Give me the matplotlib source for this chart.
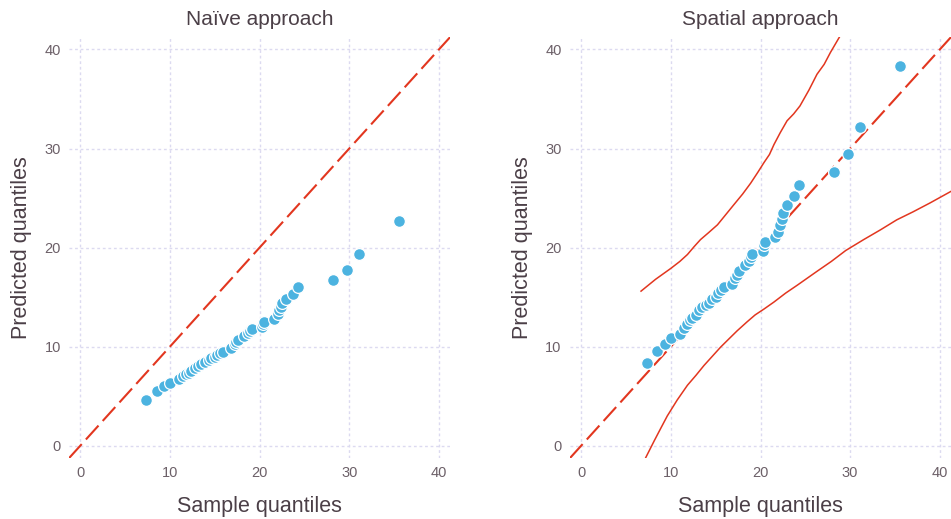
import matplotlib
matplotlib.use('Agg')
import matplotlib.pyplot as plt

# quantis da amostra (eixo x, comuns aos dois painéis)
sample_q = [7.3, 8.5, 9.3, 10.0, 11.0, 11.5, 11.8, 12.1, 12.4, 12.8, 13.1, 13.5, 13.9,
            14.3, 14.6, 15.0, 15.3, 15.6, 15.9, 16.85, 17.2, 17.4, 17.6, 18.3, 18.7,
            18.9, 19.1, 20.3, 20.4, 20.5, 21.6, 22.0, 22.2, 22.4, 22.5, 22.9, 23.7,
            24.3, 28.2, 29.8, 31.1, 35.6]

# quantis previstos - abordagem ingénua
naive_q = [4.65, 5.5, 6.0, 6.35, 6.7, 7.0, 7.2, 7.35, 7.55, 7.8, 8.0, 8.25, 8.45,
           8.65, 8.85, 9.0, 9.2, 9.35, 9.5, 9.9, 10.3, 10.5, 10.7, 11.1, 11.4,
           11.6, 11.8, 12.0, 12.3, 12.5, 12.8, 13.3, 13.7, 14.0, 14.4, 14.8, 15.3,
           16.0, 16.7, 17.7, 19.3, 22.7]

# quantis previstos - abordagem espacial
spatial_q = [8.3, 9.55, 10.3, 10.9, 11.3, 11.9, 12.3, 12.7, 12.9, 13.2, 13.7, 14.0, 14.2,
             14.4, 14.85, 15.0, 15.4, 15.7, 16.0, 16.3, 16.9, 17.2, 17.6, 18.2, 18.6,
             19.0, 19.3, 19.7, 20.3, 20.6, 21.05, 21.6, 22.3, 22.9, 23.5, 24.3, 25.2,
             26.3, 27.6, 29.4, 32.2, 38.3]

# envelope superior
upper_x = [6.67, 8.3, 10.0, 11.0, 11.85, 12.6, 13.3, 14.2, 15.2, 16.1, 17.0, 18.0, 18.9,
           19.7, 20.4, 21.0, 21.5, 22.2, 22.96, 23.7, 24.4, 25.4, 26.3, 27.1, 27.8, 28.8]
upper_y = [15.6, 16.8, 17.9, 18.6, 19.3, 20.1, 20.8, 21.5, 22.3, 23.3, 24.3, 25.4, 26.5,
           27.6, 28.6, 29.4, 30.4, 31.6, 32.8, 33.5, 34.3, 35.9, 37.5, 38.5, 39.7, 41.25]

# envelope inferior
lower_x = [6.67, 7.2, 8.15, 8.9, 9.6, 10.7, 11.85, 12.8, 13.7, 14.6, 15.55, 16.5, 17.4,
           18.5, 19.4, 20.4, 21.5, 22.8, 24.1, 25.2, 26.3, 27.9, 29.5, 31.5, 33.4,
           35.2, 37.0, 38.9, 41.5]
lower_y = [-2.3, -1.2, 0.5, 1.8, 3.0, 4.6, 6.1, 7.1, 8.1, 9.0, 9.95, 10.8, 11.6,
           12.5, 13.2, 13.8, 14.5, 15.4, 16.2, 16.9, 17.6, 18.6, 19.7, 20.8, 21.8,
           22.8, 23.6, 24.5, 25.8]

ticks = [0, 10, 20, 30, 40]
lims = [-1.25, 41.25]

plt.rcParams['font.family'] = ['Liberation Sans', 'DejaVu Sans']

COR_AZUL = '#4cb3e0'
COR_VERMELHO = '#e2361f'
COR_TITULO = '#4b3f47'
COR_TICKS = '#6c6068'
COR_GRADE = '#dcdaf0'

fig = plt.figure(figsize=(9.51, 5.19), dpi=100)
ax1 = fig.add_axes([0.0727, 0.1175, 0.4006, 0.811])
ax2 = fig.add_axes([0.5994, 0.1175, 0.4006, 0.811])


def estilo(ax, titulo):
    ax.set_xlim(lims)
    ax.set_ylim(lims)
    ax.set_xticks(ticks)
    ax.set_yticks(ticks)
    for s in ax.spines.values():
        s.set_visible(False)
    ax.grid(True, color=COR_GRADE, linestyle=(0, (2, 2)), linewidth=1.0)
    ax.set_axisbelow(True)
    ax.tick_params(length=0, labelsize=10.5, labelcolor=COR_TICKS, pad=6)
    ax.set_title(titulo, fontsize=15, color=COR_TITULO, pad=9)
    ax.set_xlabel('Sample quantiles', fontsize=15.5, color=COR_TITULO, labelpad=11)
    ax.set_ylabel('Predicted quantiles', fontsize=15.5, color=COR_TITULO, labelpad=9)


# painel esquerdo
ax1.plot(lims, lims, color=COR_VERMELHO, linewidth=1.5, dashes=(9, 3), zorder=2)
ax1.scatter(sample_q, naive_q, s=72, color=COR_AZUL, edgecolors='white', linewidths=0.9, zorder=3)
estilo(ax1, 'Naïve approach')

# painel direito
ax2.plot(lims, lims, color=COR_VERMELHO, linewidth=1.5, dashes=(9, 3), zorder=2)
ax2.plot(upper_x, upper_y, color=COR_VERMELHO, linewidth=1.1, zorder=2)
ax2.plot(lower_x, lower_y, color=COR_VERMELHO, linewidth=1.1, zorder=2)
ax2.scatter(sample_q, spatial_q, s=72, color=COR_AZUL, edgecolors='white', linewidths=0.9, zorder=3)
estilo(ax2, 'Spatial approach')

plt.savefig('out.png', dpi=100)
plt.close()
